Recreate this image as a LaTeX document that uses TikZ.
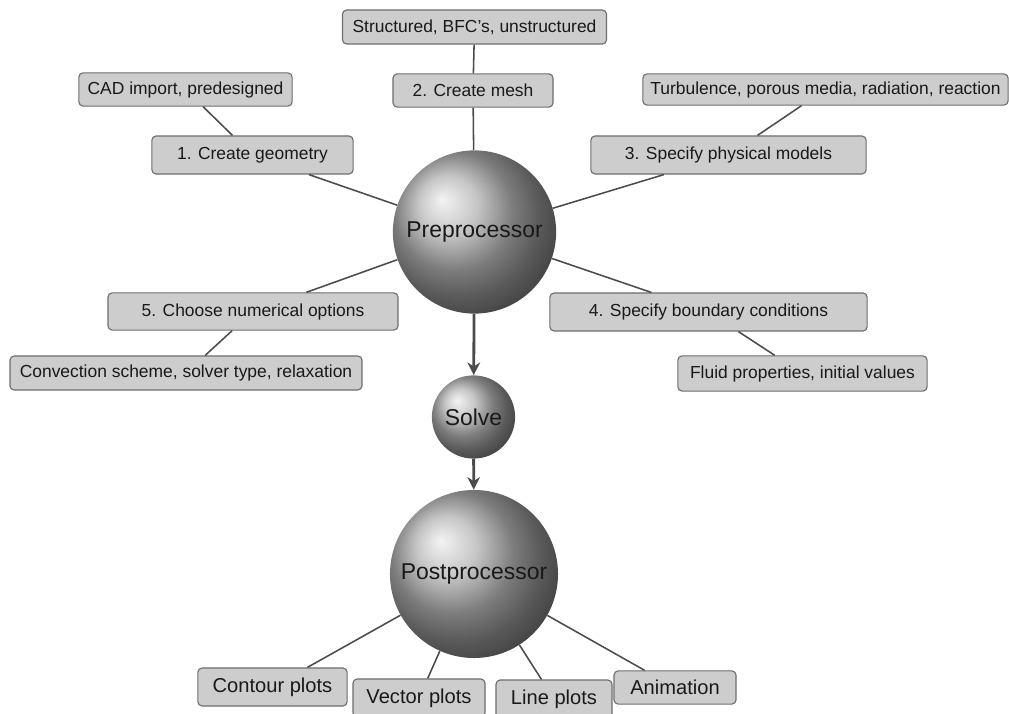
\documentclass[tikz,border=0pt]{standalone}
\usepackage{fontspec}
\setmainfont{Liberation Sans}
\usetikzlibrary{arrows.meta}
\definecolor{boxgray}{RGB}{205,205,205}
\definecolor{rimgray}{RGB}{110,110,110}
\definecolor{linkgray}{RGB}{75,75,75}
\definecolor{textgray}{RGB}{25,25,25}

\begin{document}
\begin{tikzpicture}[x=0.025cm,y=-0.025cm]

%
% Styles
%
\tikzstyle{stepbox} = [rectangle,rounded corners=3pt,draw=rimgray,fill=boxgray,line width=0.8pt,
                       inner sep=0pt,text=textgray,font=\fontsize{12.4}{14}\selectfont]
\tikzstyle{outbox}  = [stepbox,font=\fontsize{14.3}{16}\selectfont]
\tikzstyle{ball}    = [circle,inner sep=0pt,shading=ball,ball color=black!30,
                       text=textgray,font=\fontsize{16.3}{18}\selectfont]
\tikzstyle{link}    = [draw=linkgray,line width=1.1pt]
\tikzstyle{flow}    = [-{Stealth[length=9pt,width=9pt]},draw=linkgray,line width=2pt]

\useasboundingbox (0,0) rectangle (1009,714);

% the three stages
\node[ball,minimum size=4.08cm] (pre)   at (474.5,232) {Preprocessor};
\node[ball,minimum size=2.08cm] (solve) at (473.5,417) {Solve};
\node[ball,minimum size=4.2cm]  (post)  at (474,574)   {Postprocessor};

% preprocessor steps
\node[stepbox,minimum width=6.6cm,minimum height=0.85cm]   (struct) at (474.5,27)  {Structured, BFC's, unstructured};
\node[stepbox,minimum width=4cm,minimum height=0.83cm]     (mesh)   at (473,90.5)  {2. Create mesh};
\node[stepbox,minimum width=5.33cm,minimum height=0.83cm]  (cad)    at (185.5,89.5) {CAD import, predesigned};
\node[stepbox,minimum width=5.03cm,minimum height=0.95cm]  (geom)   at (252.5,155) {1. Create geometry};
\node[stepbox,minimum width=9.13cm,minimum height=0.78cm]  (turb)   at (825.5,89.5) {Turbulence, porous media, radiation, reaction};
\node[stepbox,minimum width=6.88cm,minimum height=0.95cm]  (phys)   at (728.5,155) {3. Specify physical models};
\node[stepbox,minimum width=7.25cm,minimum height=0.93cm]  (num)    at (253,311.5) {5. Choose numerical options};
\node[stepbox,minimum width=8.8cm,minimum height=0.85cm]   (conv)   at (186,373)   {Convection scheme, solver type, relaxation};
\node[stepbox,minimum width=7.93cm,minimum height=0.95cm]  (bc)     at (708.5,312) {4. Specify boundary conditions};
\node[stepbox,minimum width=6.23cm,minimum height=0.88cm]  (fluid)  at (802.5,373.5) {Fluid properties, initial values};

% postprocessor outputs
\node[outbox,minimum width=3.73cm,minimum height=0.95cm] (contour) at (272.5,687) {Contour plots};
\node[outbox,minimum width=3.3cm,minimum height=0.95cm]  (vector)  at (419,698)   {Vector plots};
\node[outbox,minimum width=2.9cm,minimum height=0.95cm]  (lines)   at (554,699)   {Line plots};
\node[outbox,minimum width=3.05cm,minimum height=0.83cm] (anim)    at (675,687.5) {Animation};

\draw[link] (struct) -- (mesh);
\draw[link] (mesh)   -- (pre);
\draw[link] (cad)    -- (geom);
\draw[link] (geom)   -- (pre);
\draw[link] (turb)   -- (phys);
\draw[link] (phys)   -- (pre);
\draw[link] (conv)   -- (num);
\draw[link] (num)    -- (pre);
\draw[link] (fluid)  -- (bc);
\draw[link] (bc)     -- (pre);
\draw[link] (post)   -- (contour);
\draw[link] (post)   -- (vector);
\draw[link] (post)   -- (lines);
\draw[link] (post)   -- (anim);

\draw[flow] (pre)   -- (solve);
\draw[flow] (solve) -- (post);

\end{tikzpicture}
\end{document}
